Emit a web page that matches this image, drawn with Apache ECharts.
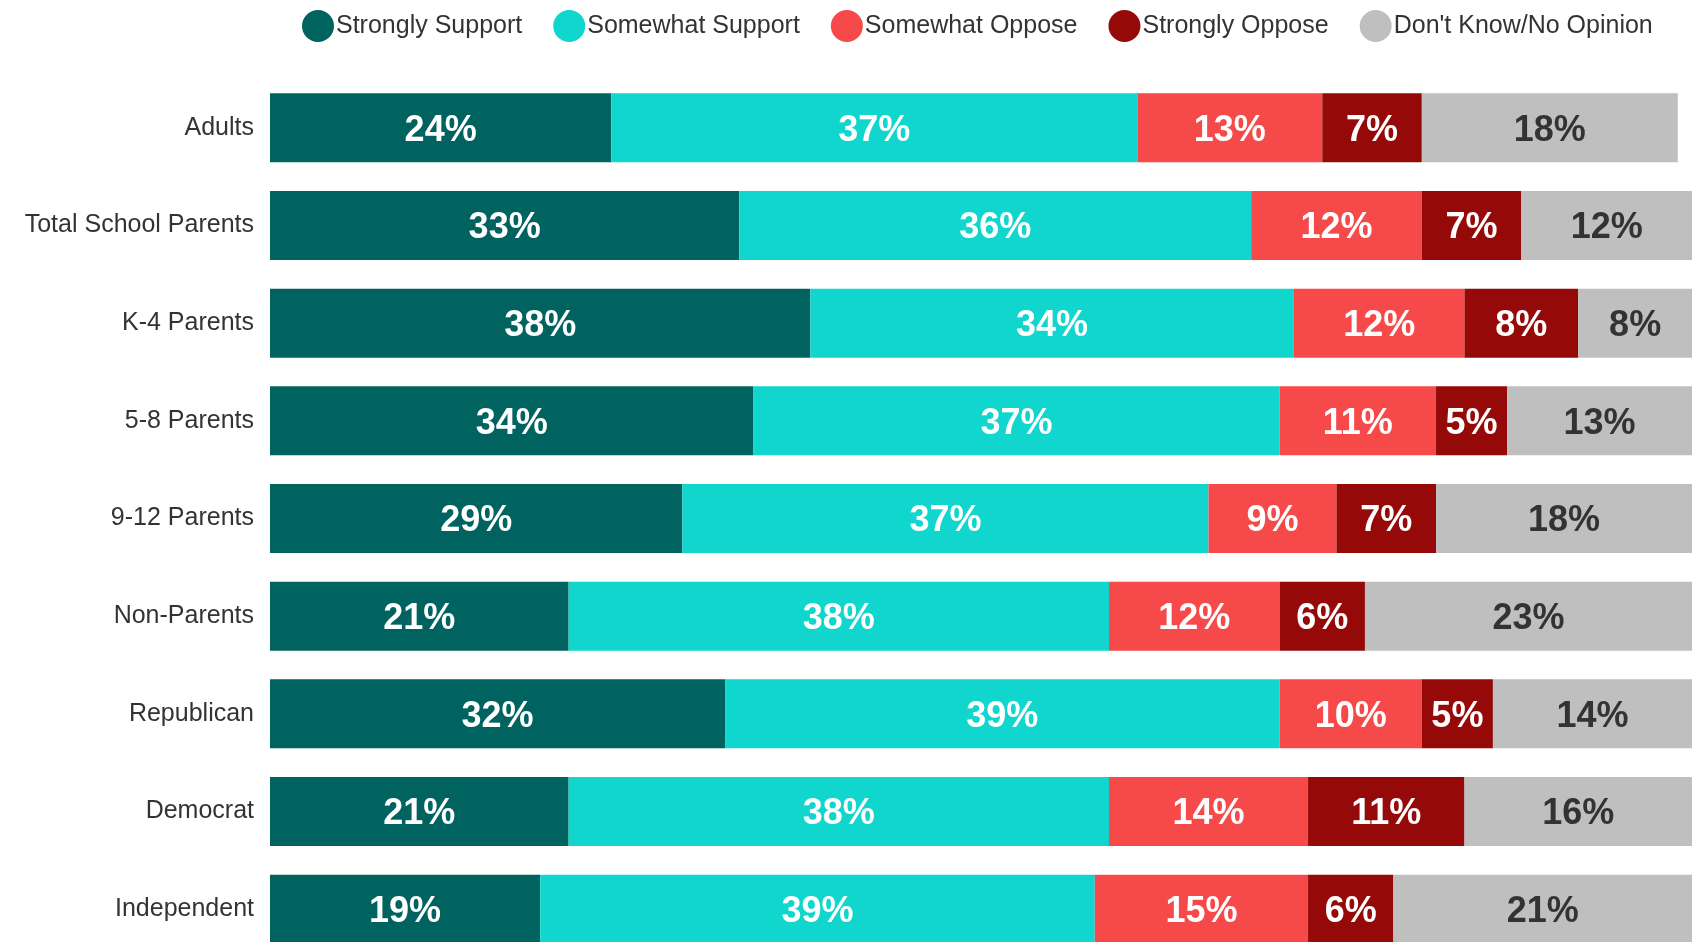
<!DOCTYPE html>
<html>
<head>
<meta charset="utf-8">
<title>Support by group</title>
<script src="https://cdn.jsdelivr.net/npm/echarts@6/dist/echarts.min.js"></script>
<style>
  html, body { margin: 0; padding: 0; background: #ffffff; }
  #chart { width: 1696px; height: 942px; }
</style>
</head>
<body>
<div id="chart"></div>
<script>
// Survey groups, top to bottom
const groups = ['Adults', 'Total School Parents', 'K-4 Parents', '5-8 Parents', '9-12 Parents',
  'Non-Parents', 'Republican', 'Democrat', 'Independent'];

// Response shares (%) per group
const stronglySupport = [24, 33, 38, 34, 29, 21, 32, 21, 19];
const somewhatSupport = [37, 36, 34, 37, 37, 38, 39, 38, 39];
const somewhatOppose  = [13, 12, 12, 11, 9, 12, 10, 14, 15];
const stronglyOppose  = [7, 7, 8, 5, 7, 6, 5, 11, 6];
const dontKnow        = [18, 12, 8, 13, 18, 23, 14, 16, 21];

const seriesDefs = [
  { name: 'Strongly Support', data: stronglySupport, color: '#006360', text: '#ffffff' },
  { name: 'Somewhat Support', data: somewhatSupport, color: '#10D6CD', text: '#ffffff' },
  { name: 'Somewhat Oppose',  data: somewhatOppose,  color: '#F64949', text: '#ffffff' },
  { name: 'Strongly Oppose',  data: stronglyOppose,  color: '#950909', text: '#ffffff' },
  { name: "Don't Know/No Opinion", data: dontKnow,   color: '#BFBFBF', text: '#333333' }
];

const chart = echarts.init(document.getElementById('chart'), null, { renderer: 'canvas' });

chart.setOption({
  animation: false,
  backgroundColor: '#ffffff',
  legend: {
    left: 297,
    top: 5,
    icon: 'circle',
    itemWidth: 32,
    itemHeight: 32,
    itemGap: 31,
    textStyle: {
      fontFamily: 'Liberation Sans, Arial, sans-serif',
      fontSize: 25,
      color: '#333333',
      padding: [0, 0, 0, -3]
    },
    data: seriesDefs.map(s => s.name)
  },
  // the last row runs past the bottom edge, so the grid is not clamped to the canvas
  grid: {
    left: 270,
    right: 4,
    top: 79,
    height: 879,
    outerBoundsMode: 'none',
    containLabel: false
  },
  xAxis: {
    type: 'value',
    min: 0,
    max: 100,
    show: false
  },
  yAxis: {
    type: 'category',
    data: groups,
    inverse: true,
    axisLine: { show: false },
    axisTick: { show: false },
    axisLabel: {
      margin: 16,
      fontFamily: 'Liberation Sans, Arial, sans-serif',
      fontSize: 25,
      color: '#333333'
    }
  },
  series: seriesDefs.map(s => ({
    name: s.name,
    type: 'bar',
    stack: 'total',
    barWidth: 69,
    data: s.data,
    itemStyle: { color: s.color },
    label: {
      show: true,
      position: 'inside',
      offset: [0, 3],
      formatter: p => p.value + '%',
      fontFamily: 'Liberation Sans, Arial, sans-serif',
      fontWeight: 'bold',
      fontSize: 36,
      color: s.text
    }
  }))
});
</script>
</body>
</html>
